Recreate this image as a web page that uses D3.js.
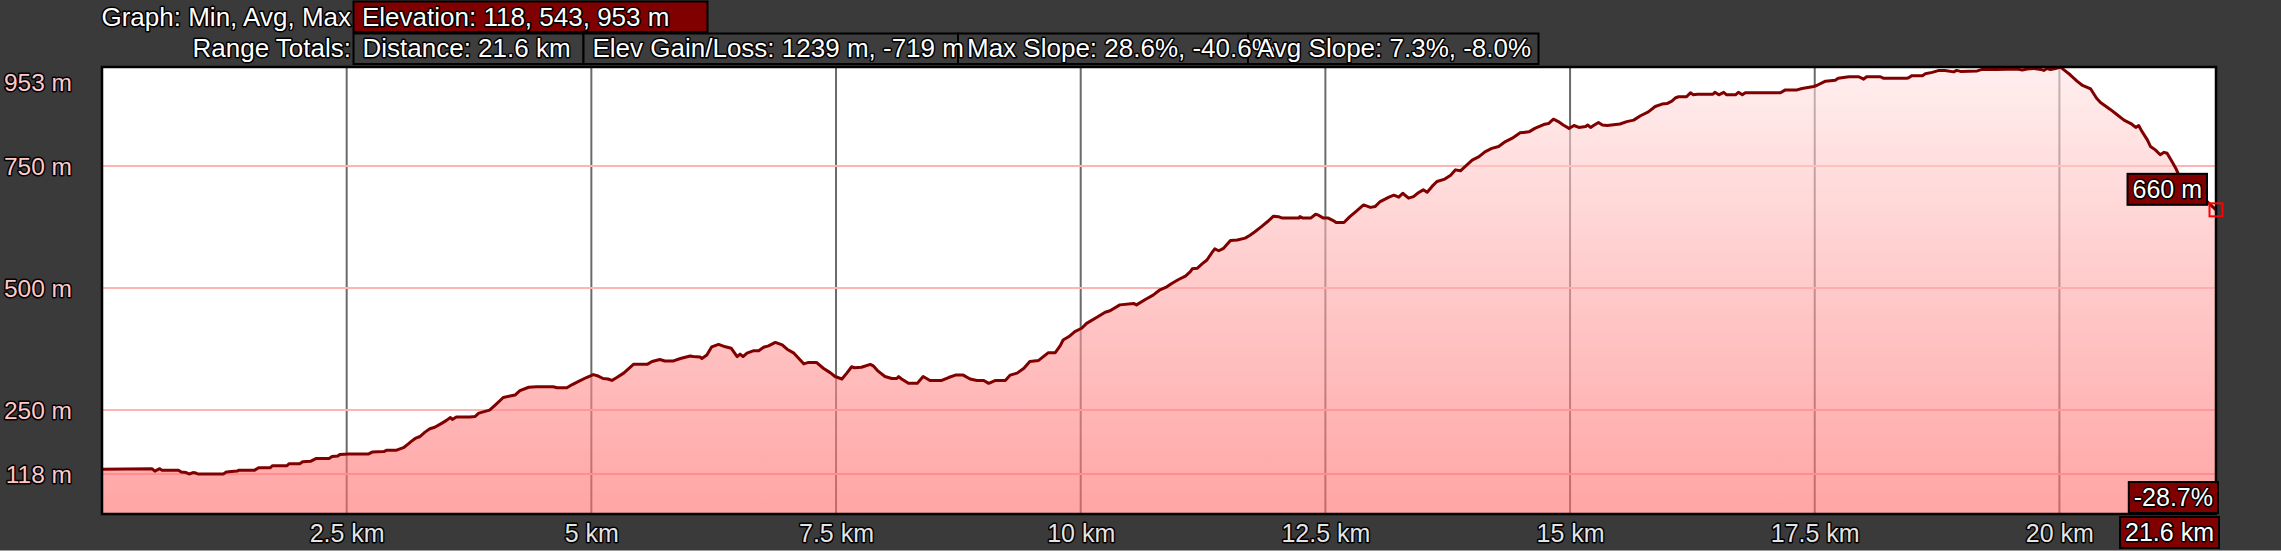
<!DOCTYPE html>
<html>
<head>
<meta charset="utf-8">
<script src="https://cdn.jsdelivr.net/npm/d3@7"></script>
<style>
html,body{margin:0;padding:0;background:#3a3a3a;}
svg{display:block;}
text{font-family:"Liberation Sans",Arial,sans-serif;}
</style>
</head>
<body>
<svg id="chart" width="2281" height="551"></svg>
<script>
// ---- data (distance in km, elevation in m) ----
const dist = [0,0.51,0.54,0.59,0.61,0.78,0.81,0.86,0.89,0.93,0.96,0.98,1.24,1.27,1.38,1.40,1.56,1.60,1.72,1.74,1.89,1.91,2.02,2.05,2.13,2.19,2.32,2.35,2.41,2.43,2.52,2.72,2.76,2.88,2.91,3.01,3.08,3.13,3.16,3.20,3.25,3.30,3.35,3.40,3.47,3.52,3.56,3.58,3.62,3.76,
3.81,3.85,3.96,4.02,4.10,4.17,4.22,4.27,4.36,4.44,4.61,4.65,4.75,4.80,4.87,4.95,5.02,5.07,5.12,5.17,5.21,5.26,5.33,5.43,5.57,5.62,5.70,5.75,5.84,5.91,6.01,6.04,6.11,6.13,6.18,6.23,6.30,6.37,6.43,6.49,6.52,6.55,6.59,6.66,6.71,6.76,6.81,6.88,6.95,7.00,7.07,7.17,7.22,7.30,7.37,7.44,
7.49,7.56,7.61,7.66,7.69,7.76,7.85,7.88,7.93,8.00,8.07,8.12,8.14,8.17,8.24,8.33,8.39,8.46,8.58,8.65,8.72,8.80,8.87,8.94,9.01,9.06,9.13,9.23,9.28,9.35,9.42,9.48,9.57,9.67,9.74,9.79,9.82,9.88,9.94,10.01,10.06,10.17,10.25,10.30,10.40,10.54,10.57,10.66,10.74,10.81,10.88,10.93,11.00,11.07,11.12,
11.14,11.19,11.24,11.29,11.34,11.37,11.41,11.46,11.53,11.60,11.68,11.73,11.78,11.85,11.91,11.97,12.02,12.06,12.23,12.24,12.27,12.35,12.40,12.43,12.48,12.53,12.58,12.61,12.69,12.75,12.82,12.89,12.96,13.01,13.06,13.15,13.20,13.25,13.29,13.35,13.40,13.45,13.50,13.54,13.59,13.64,13.72,13.78,13.83,13.88,13.93,14.00,14.07,14.13,14.20,14.27,14.34,14.41,14.49,14.58,14.64,14.73,
14.78,14.83,14.88,14.93,14.99,15.04,15.09,15.16,15.18,15.21,15.24,15.29,15.33,15.38,15.51,15.58,15.65,15.72,15.80,15.87,15.94,15.99,16.04,16.08,16.11,16.19,16.23,16.26,16.30,16.46,16.48,16.52,16.57,16.60,16.69,16.72,16.76,16.79,17.15,17.20,17.32,17.37,17.49,17.52,17.61,17.71,17.74,17.85,17.95,18.00,18.03,18.17,18.20,18.44,
18.46,18.49,18.60,18.63,18.70,18.77,18.83,18.92,18.95,18.99,19.16,19.21,19.28,19.36,19.57,19.62,19.67,19.74,19.81,19.84,19.87,19.91,19.96,20.01,20.04,20.11,20.18,20.23,20.32,20.38,20.42,20.52,20.59,20.66,20.73,20.78,20.81,20.84,20.90,20.93,20.98,21.03,21.07,21.10,21.15,21.19,21.22,21.51,21.60];
const elev = [128,129,124,129,126,126,122,121,118,121,120,118,118,122,124,126,126,131,131,135,135,139,139,143,144,150,150,154,155,158,159,159,163,164,167,167,172,180,185,191,195,204,211,214,222,228,234,230,235,235,
236,243,249,260,275,278,280,289,296,297,297,295,295,301,308,316,322,319,314,313,310,316,325,343,343,349,353,350,350,355,360,359,358,355,362,379,384,379,376,359,364,359,366,371,371,378,381,388,383,374,366,344,347,347,335,326,
318,313,325,338,336,337,343,340,329,318,314,314,318,313,304,304,318,310,310,316,321,321,313,310,310,304,310,310,321,325,335,349,351,367,367,381,393,400,410,417,427,440,450,453,465,468,465,476,485,496,502,509,517,524,533,
539,540,549,557,572,580,576,581,597,598,602,608,615,626,636,647,646,643,643,646,643,643,651,649,643,643,638,634,634,646,658,670,665,667,677,686,690,686,694,684,687,695,701,696,708,718,723,731,742,740,749,762,769,779,786,790,800,807,818,820,827,835,
837,846,841,834,827,833,829,831,834,829,833,839,834,833,836,841,844,853,861,872,877,878,883,890,892,892,900,896,897,897,901,896,901,896,896,901,896,900,900,906,906,909,913,915,924,926,930,933,933,928,933,933,930,930,
931,935,935,939,942,946,946,943,946,944,945,948,948,948,949,947,949,950,948,946,950,948,950,953,948,937,924,916,908,889,880,866,855,844,837,829,833,822,803,790,783,773,778,776,759,745,731,677,660];

const yTicks = [118, 250, 500, 750, 953];
const xTicks = [2.5, 5, 7.5, 10, 12.5, 15, 17.5, 20];
const xTickLabels = ["2.5 km","5 km","7.5 km","10 km","12.5 km","15 km","17.5 km","20 km"];
const graphStats = ["Elevation: 118, 543, 953 m"];
const rangeTotals = ["Distance: 21.6 km", "Elev Gain/Loss: 1239 m, -719 m", "Max Slope: 28.6%, -40.6%", "Avg Slope: 7.3%, -8.0%"];
const cursorSlope = "-28.7%";

// ---- layout ----
const L = 102, R = 2216, T = 67, B = 514;
const svg = d3.select("#chart");
const x = d3.scaleLinear().domain([0, 21.6]).range([L, R]);
const y = d3.scaleLinear().domain([36, 953]).range([B, T]);

function outline(sel, fill, fs) {
  sel.attr("fill", fill).attr("stroke", "#000").attr("stroke-width", 3)
     .attr("stroke-linejoin", "round").attr("paint-order", "stroke")
     .attr("font-size", fs || 25);
}

svg.append("rect").attr("width", 2281).attr("height", 551).attr("fill", "#3a3a3a");
svg.append("line").attr("x1", 0).attr("x2", 2281).attr("y1", 550.5).attr("y2", 550.5).attr("stroke", "#9a9a9a").attr("stroke-width", 1);

// plot background
svg.append("rect").attr("x", L).attr("y", T).attr("width", R - L).attr("height", B - T).attr("fill", "#fff");

// grid
svg.append("g").selectAll("line").data(xTicks).join("line")
  .attr("x1", d => x(d)).attr("x2", d => x(d)).attr("y1", T).attr("y2", B)
  .attr("stroke", "#6a6a6a").attr("stroke-width", 2);
svg.append("g").selectAll("line").data(yTicks.filter(d => d < 953)).join("line")
  .attr("x1", L).attr("x2", R).attr("y1", d => Math.round(y(d)) ).attr("y2", d => Math.round(y(d)))
  .attr("stroke", "#ffb4b4").attr("stroke-width", 2);

// gradient fill
const defs = svg.append("defs");
const grad = defs.append("linearGradient").attr("id", "fillGrad")
  .attr("gradientUnits", "userSpaceOnUse").attr("x1", 0).attr("x2", 0).attr("y1", T).attr("y2", B);
grad.append("stop").attr("offset", 0).attr("stop-color", "rgb(255,227,227)").attr("stop-opacity", 0.6);
grad.append("stop").attr("offset", 1).attr("stop-color", "rgb(255,105,105)").attr("stop-opacity", 0.6);

const pts = dist.map((d, i) => [d, elev[i]]);
const area = d3.area().x(d => x(d[0])).y0(B).y1(d => y(d[1]));
const line = d3.line().x(d => x(d[0])).y(d => y(d[1]));
svg.append("path").datum(pts).attr("d", area).attr("fill", "url(#fillGrad)");
svg.append("path").datum(pts).attr("d", line).attr("fill", "none")
  .attr("stroke", "#800000").attr("stroke-width", 3).attr("stroke-linejoin", "round");

// border
svg.append("rect").attr("x", L).attr("y", T).attr("width", R - L).attr("height", B - T)
  .attr("fill", "none").attr("stroke", "#000").attr("stroke-width", 2.5);

// x axis labels
const xAxis = d3.axisBottom(x).tickValues(xTicks).tickFormat((d, i) => xTickLabels[i]).tickSize(0);
const gx = svg.append("g").attr("transform", `translate(0,${B})`).call(xAxis);
gx.select(".domain").remove();
gx.selectAll("text").attr("y", 28).attr("dy", null).attr("font-family", null).call(outline, "#e4e4e4", 25);

// y axis labels
const yAxis = d3.axisLeft(y).tickValues(yTicks).tickFormat(d => d + " m").tickSize(0);
const gy = svg.append("g").attr("transform", `translate(72,0)`).call(yAxis);
gy.select(".domain").remove();
gy.selectAll(".tick").attr("transform", d => `translate(0,${Math.max(y(d), T + 15)})`);
gy.selectAll("text").attr("x", 0).attr("dy", 9).attr("font-family", null).call(outline, "#ffc8c8", 24.5);

// header
const HF = 26;
svg.append("text").attr("x", 351).attr("y", 26).attr("text-anchor", "end").text("Graph: Min, Avg, Max").call(outline, "#fff", HF);
svg.append("text").attr("x", 351).attr("y", 57).attr("text-anchor", "end").text("Range Totals:").call(outline, "#fff", HF);

svg.append("rect").attr("x", 353.5).attr("y", 1.5).attr("width", 354).attr("height", 30.5)
  .attr("fill", "#800000").attr("stroke", "#000").attr("stroke-width", 2);
svg.append("text").attr("x", 362).attr("y", 26).text(graphStats[0]).call(outline, "#fff", HF);

const boxEdges = [353.5, 583.5, 958, 1248, 1538.5];
const gr = svg.append("g");
gr.selectAll("rect").data(rangeTotals).join("rect")
  .attr("x", (d, i) => boxEdges[i]).attr("y", 33.5)
  .attr("width", (d, i) => boxEdges[i + 1] - boxEdges[i]).attr("height", 30.5)
  .attr("fill", "#3d3d3d").attr("stroke", "#000").attr("stroke-width", 2);
gr.selectAll("text").data(rangeTotals).join("text")
  .attr("x", (d, i) => boxEdges[i] + 9).attr("y", 57).text(d => d).call(outline, "#fff", HF);

// cursor marker at end
const lastD = dist[dist.length - 1], lastE = elev[elev.length - 1];
const mx = x(lastD), my = y(lastE);
svg.append("rect").attr("x", mx - 6.5).attr("y", my - 6.5).attr("width", 13).attr("height", 13)
  .attr("fill", "none").attr("stroke", "#ff0000").attr("stroke-width", 2);

function labelBox(txt, right, bottom) {
  const g = svg.append("g");
  const r = g.append("rect");
  const t = g.append("text").text(txt).call(outline, "#fff", 25).attr("text-anchor", "middle");
  const w = t.node().getComputedTextLength() + 10, h = 31;
  r.attr("x", right - w).attr("y", bottom - h).attr("width", w).attr("height", h)
   .attr("fill", "#800000").attr("stroke", "#000").attr("stroke-width", 2);
  t.attr("x", right - w / 2).attr("y", bottom - 7);
}
labelBox(d3.format("d")(lastE) + " m", mx - 9, my - 5);
labelBox(cursorSlope, R + 2, B - 1);
labelBox(d3.format(".1f")(lastD) + " km", R + 3, 548);
</script>
</body>
</html>
